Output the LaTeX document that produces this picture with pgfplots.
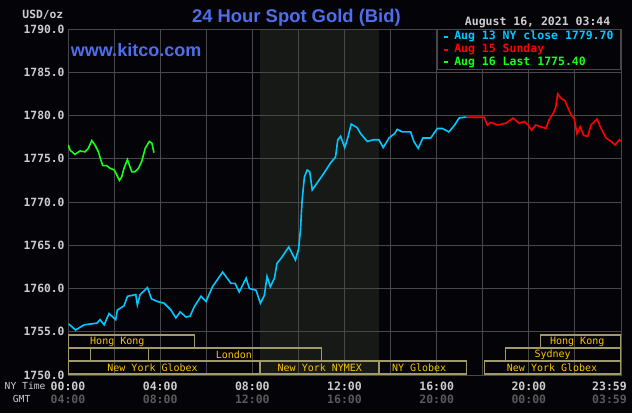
\documentclass[border=0pt]{standalone}
\usepackage{pgfplots}
\pgfplotsset{compat=1.18}
\usepackage{fontspec}
\setmainfont{Liberation Sans}
\setmonofont{DejaVu Sans Mono}
\definecolor{bg}{RGB}{4,3,8}
\definecolor{shade}{RGB}{22,25,22}
\definecolor{gridc}{RGB}{72,72,72}
\definecolor{labc}{RGB}{205,205,205}
\definecolor{gmtgray}{RGB}{90,90,90}
\definecolor{kcyan}{RGB}{0,200,255}
\definecolor{kred}{RGB}{255,0,0}
\definecolor{kgreen}{RGB}{20,255,20}
\definecolor{kblue}{RGB}{78,110,235}
\definecolor{bandline}{RGB}{160,154,106}
\definecolor{bandtext}{RGB}{255,196,0}
\pagecolor{bg}
\begin{document}
\begin{tikzpicture}
\path (0,0) rectangle (632pt,413pt);
\begin{axis}[
  set layers,
  at={(68pt,38pt)}, anchor=south west,
  width=553pt, height=346pt, scale only axis,
  xmin=0, xmax=24, ymin=1750, ymax=1790,
  xtick={0,4,8,12,16,20},
  xticklabels={{00:00\\\textcolor{gmtgray}{04:00}},{04:00\\\textcolor{gmtgray}{08:00}},{08:00\\\textcolor{gmtgray}{12:00}},{12:00\\\textcolor{gmtgray}{16:00}},{16:00\\\textcolor{gmtgray}{20:00}},{20:00\\\textcolor{gmtgray}{00:00}}},
  extra x ticks={23.5},
  extra x tick labels={{23:59\\\textcolor{gmtgray}{03:59}}},
  extra x tick style={grid=none},
  minor xtick={2,6,10,14,18,22},
  ytick={1750,1755,...,1790},
  grid=both,
  major grid style={draw=gridc, line width=1pt},
  minor grid style={draw=gridc, line width=1pt},
  major tick length=0pt, minor tick length=0pt,
  axis line style={draw=gridc, line width=1pt},
  scaled y ticks=false,
  xticklabel style={align=center, yshift=-3pt, text=labc, font=\ttfamily\bfseries\fontsize{11.5}{13}\selectfont},
  yticklabel style={text=labc, font=\ttfamily\bfseries\fontsize{11.3}{13}\selectfont,
    /pgf/number format/.cd, fixed, fixed zerofill, precision=1, 1000 sep={}, assume math mode=true},
  legend style={at={(rel axis cs:1,1)}, anchor=north east, draw=gridc, line width=1pt, fill=bg,
    font=\ttfamily\bfseries\fontsize{11.5}{13}\selectfont, row sep=0pt, column sep=4pt,
    inner xsep=6pt, inner ysep=1pt,
    nodes={inner sep=1pt, text height=8.2pt, text depth=2.5pt}},
  legend cell align=left,
  legend image code/.code={\draw[#1, line width=2pt] (0pt,0pt) -- (4pt,0pt);},
]
% NYMEX session shading
\addplot[fill=shade, draw=none, forget plot, on layer=axis background]
  coordinates {(8.333,1750) (8.333,1790) (13.5,1790) (13.5,1750)} -- cycle;

% Aug 13 (cyan)
\addplot[kcyan, line width=1.6pt] coordinates {
(0.03,1755.9) (0.33,1755.2) (0.70,1755.8) (1.26,1756.0) (1.39,1756.4) (1.57,1755.8)
(1.78,1757.1) (2.07,1756.4) (2.14,1757.5) (2.43,1758.0) (2.58,1759.1) (2.94,1759.3)
(3.01,1758.1) (3.13,1759.3) (3.45,1760.1) (3.62,1758.8) (3.88,1758.5) (4.17,1758.3)
(4.47,1757.5) (4.68,1756.6) (4.87,1757.3) (5.12,1756.7) (5.30,1756.8) (5.48,1757.9)
(5.77,1759.1) (5.99,1758.5) (6.27,1760.2) (6.71,1761.9) (7.07,1760.6) (7.25,1760.6)
(7.43,1759.6) (7.73,1761.2) (7.87,1760.0) (8.16,1759.8) (8.35,1758.3) (8.52,1759.2)
(8.64,1761.4) (8.78,1760.2) (8.96,1761.2) (9.07,1762.9) (9.25,1763.5) (9.58,1764.8)
(9.87,1763.3) (10.01,1764.6) (10.09,1766.8) (10.16,1770.2) (10.26,1772.9) (10.38,1773.7)
(10.49,1773.5) (10.60,1771.4) (10.81,1772.2) (11.10,1773.3) (11.39,1774.5) (11.61,1775.2)
(11.71,1777.2) (11.83,1777.6) (12.01,1776.3) (12.14,1777.4) (12.29,1779.0) (12.55,1778.6)
(12.70,1777.9) (12.99,1777.0) (13.25,1777.2) (13.49,1777.2) (13.68,1776.3) (13.93,1777.4)
(14.17,1777.9) (14.29,1778.4) (14.51,1778.1) (14.73,1778.1) (14.87,1778.1) (15.01,1777.0)
(15.20,1776.2) (15.40,1777.4) (15.74,1777.4) (16.03,1778.5) (16.25,1778.5) (16.53,1778.1)
(16.78,1778.9) (16.97,1779.7) (17.19,1779.8) (17.30,1779.8)
};
\addlegendentry{\textcolor{kcyan}{Aug 13 NY close 1779.70}}

% Aug 15 (red)
\addplot[kred, line width=1.6pt] coordinates {
(17.30,1779.8) (18.06,1779.8) (18.20,1778.9) (18.35,1779.2) (18.64,1778.9) (19.00,1779.1)
(19.32,1779.7) (19.58,1779.1) (19.80,1779.3) (19.97,1778.9) (20.12,1778.3) (20.30,1778.9)
(20.52,1778.7) (20.74,1778.5) (20.88,1779.5) (21.07,1780.3) (21.17,1781.0) (21.25,1782.5)
(21.39,1782.0) (21.57,1781.7) (21.68,1781.0) (21.83,1780.1) (21.97,1779.6) (22.09,1777.9)
(22.23,1778.7) (22.38,1777.7) (22.55,1777.6) (22.70,1778.9) (22.96,1779.6) (23.10,1778.7)
(23.35,1777.4) (23.57,1777.0) (23.74,1776.6) (23.93,1777.2) (23.98,1777.0)
};
\addlegendentry{\textcolor{kred}{Aug 15 Sunday}}

% Aug 16 (green)
\addplot[kgreen, line width=1.6pt] coordinates {
(0.01,1776.6) (0.09,1776.0) (0.30,1775.5) (0.52,1775.9) (0.74,1775.8) (0.88,1776.2)
(1.03,1777.1) (1.17,1776.6) (1.32,1775.8) (1.42,1774.9) (1.51,1774.2) (1.68,1774.2)
(1.83,1773.9) (2.01,1773.7) (2.12,1773.1) (2.23,1772.5) (2.33,1772.9) (2.43,1773.9)
(2.58,1774.9) (2.67,1774.2) (2.77,1773.5) (2.91,1773.5) (3.06,1773.9) (3.20,1774.7)
(3.35,1776.2) (3.53,1777.0) (3.64,1776.8) (3.73,1775.7)
};
\addlegendentry{\textcolor{kgreen}{Aug 16 Last 1775.40}}

% market session bands
\begin{scope}[draw=bandline, line width=1.2pt]
\draw (axis cs:0,1753.12) rectangle (axis cs:5.5,1754.62);
\draw (axis cs:20.5,1753.12) rectangle (axis cs:24,1754.62);
\draw (axis cs:0,1751.62) rectangle (axis cs:0.97,1753.12);
\draw (axis cs:0.97,1751.62) rectangle (axis cs:3.5,1753.12);
\draw (axis cs:3.5,1751.62) rectangle (axis cs:11,1753.12);
\draw (axis cs:19,1751.62) rectangle (axis cs:24,1753.12);
\draw (axis cs:0,1750.12) rectangle (axis cs:8.333,1751.62);
\draw (axis cs:8.333,1750.12) rectangle (axis cs:13.5,1751.62);
\draw (axis cs:13.5,1750.12) rectangle (axis cs:17.3,1751.62);
\draw (axis cs:18.06,1750.12) rectangle (axis cs:24,1751.62);
\end{scope}
\begin{scope}[every node/.style={text=bandtext, font=\ttfamily\fontsize{10}{12}\selectfont, inner sep=0pt}]
\node at (axis cs:2.14,1753.87) {Hong Kong};
\node at (axis cs:22.1,1753.87) {Hong Kong};
\node at (axis cs:7.2,1752.37) {London};
\node at (axis cs:21.03,1752.37) {Sydney};
\node at (axis cs:3.67,1750.87) {New York Globex};
\node at (axis cs:10.93,1750.87) {New York NYMEX};
\node at (axis cs:15.24,1750.87) {NY Globex};
\node at (axis cs:21.01,1750.87) {New York Globex};
\end{scope}
\end{axis}

% texts around the chart
\node[text=kblue, font=\bfseries\fontsize{18.4}{20}\selectfont, inner sep=0pt] at (296.4pt,395pt) {24 Hour Spot Gold (Bid)};
\node[text=kblue, font=\bfseries\fontsize{18}{20}\selectfont, inner sep=0pt, anchor=west] at (70.7pt,362.5pt) {www.kitco.com};
\node[text=labc, font=\ttfamily\bfseries\fontsize{11.3}{13}\selectfont, inner sep=0pt, anchor=east] at (63.5pt,398pt) {USD/oz};
\node[text=labc, font=\ttfamily\bfseries\fontsize{11.5}{13}\selectfont, inner sep=0pt, anchor=east] at (610.5pt,390.5pt) {August 16, 2021 03:44};
\node[text=labc, font=\ttfamily\fontsize{9.7}{12}\selectfont, inner sep=0pt, anchor=west] at (4.5pt,27pt) {NY Time};
\node[text=labc, font=\ttfamily\fontsize{9.7}{12}\selectfont, inner sep=0pt, anchor=west] at (12.7pt,14pt) {GMT};
\pgfresetboundingbox
\useasboundingbox (0,0) rectangle (632pt,413pt);
\end{tikzpicture}
\end{document}
